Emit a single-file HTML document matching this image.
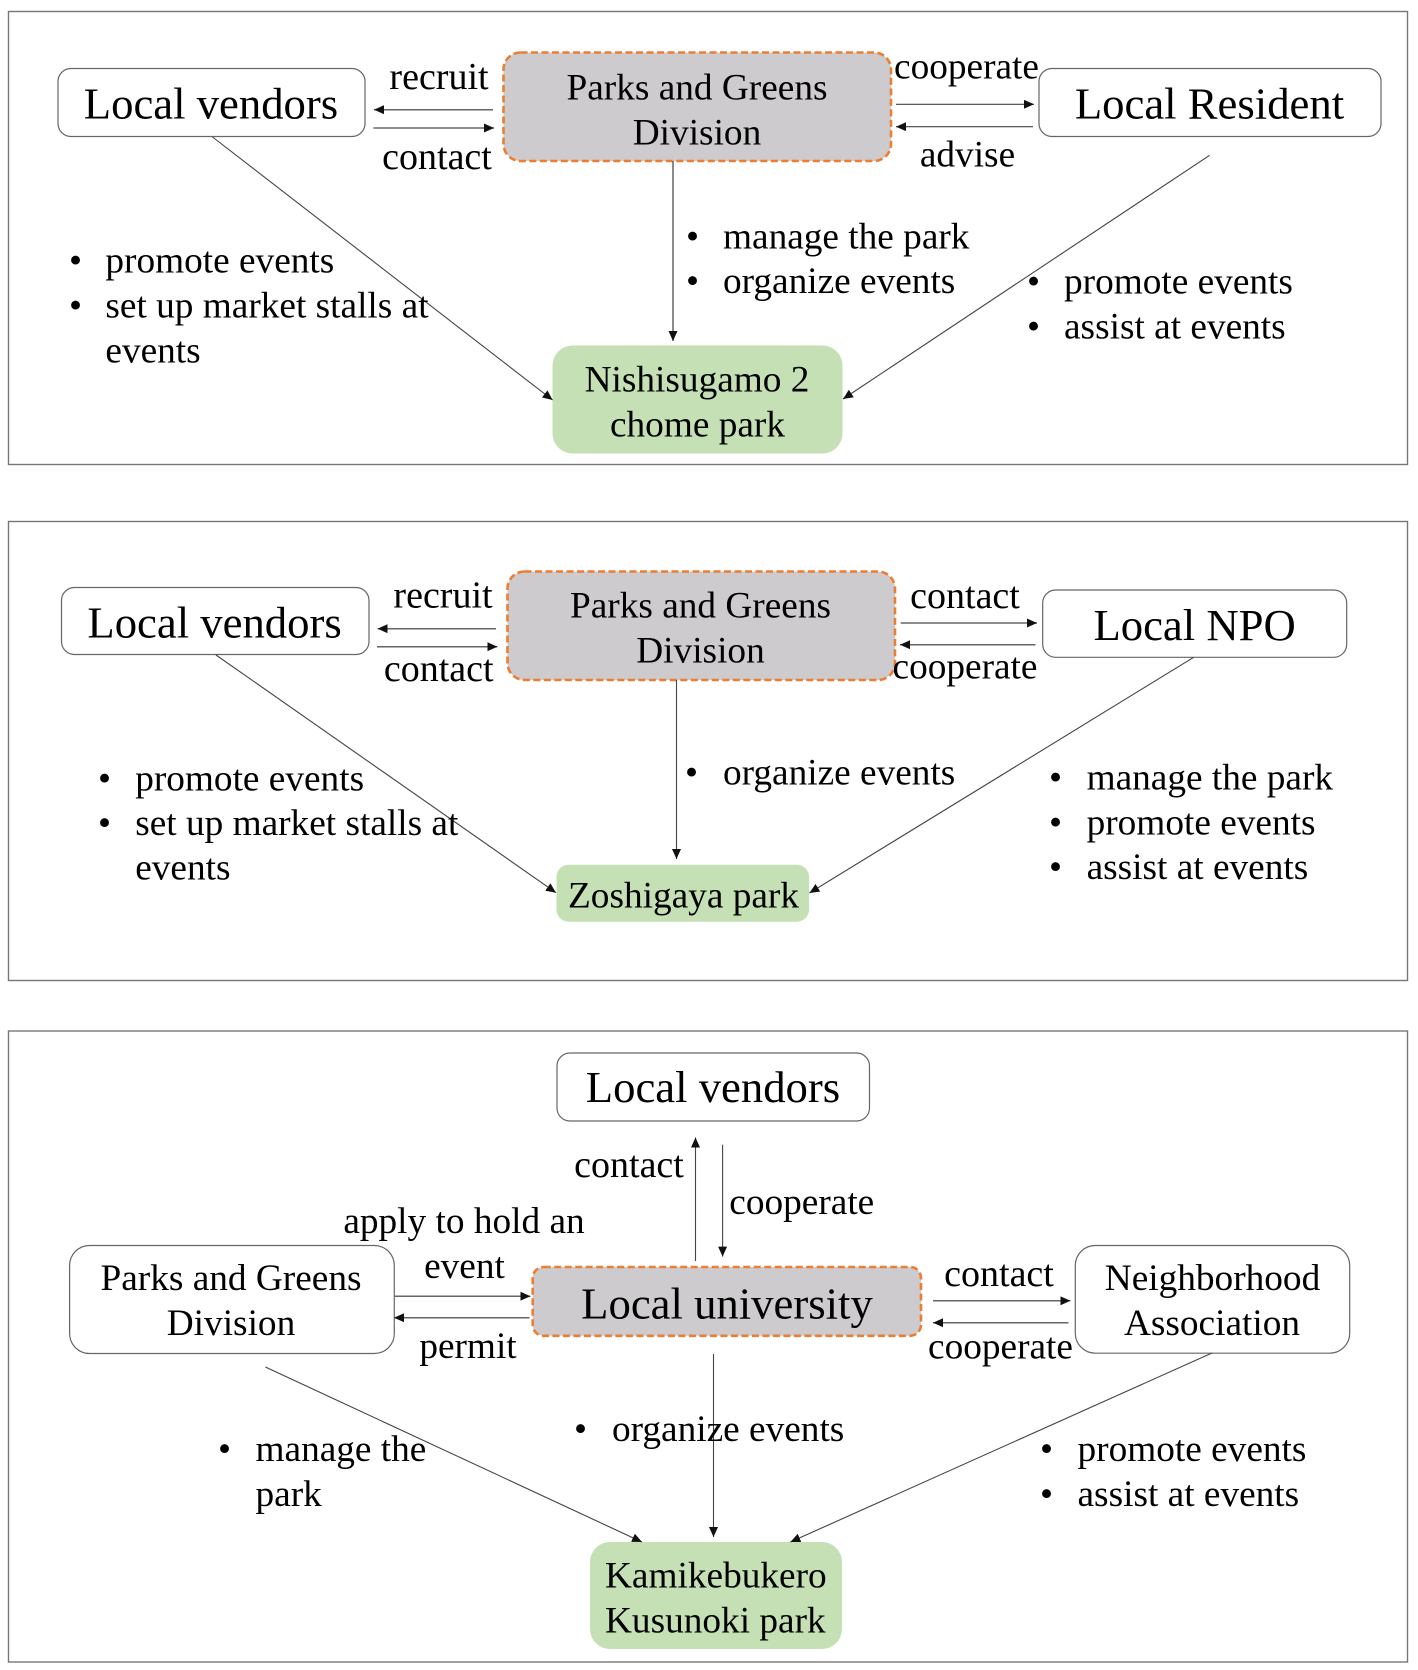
<!DOCTYPE html>
<html lang="en">
<head>
<meta charset="utf-8">
<title>Park management diagrams</title>
<style>
html,body{margin:0;padding:0;background:#fff;width:1418px;height:1670px;overflow:hidden}
svg{display:block}
text{font-family:"Liberation Serif",serif;font-size:37.3px;fill:#000;transform:translateY(1px)}
.big{font-size:44.7px;transform:translateY(.5px)}
.l{font-size:38px}
.m{text-anchor:middle}
.frame{fill:#fff;stroke:#777;stroke-width:1.4}
.box{fill:#fff;stroke:#666;stroke-width:1.2}
.grey{fill:#cdcbcd;stroke:#ed7d31;stroke-width:2.6;stroke-dasharray:7 3.5}
.green{fill:#c5e0b4}
.a{stroke:#444;stroke-width:1.1;fill:none;marker-end:url(#h)}
.b{stroke:#666;stroke-width:1.5}
</style>
</head>
<body>
<svg xmlns="http://www.w3.org/2000/svg" width="1418" height="1670" viewBox="0 0 1418 1670">
<defs>
<marker id="h" markerUnits="userSpaceOnUse" markerWidth="10" markerHeight="9" refX="10" refY="4.5" orient="auto">
<path d="M0 0L10 4.5L0 9Z" fill="#111"/>
</marker>
</defs>

<!-- Panel 1 -->
<rect class="frame" x="8.5" y="11.5" width="1399" height="453"/>
<rect class="box" x="58" y="68.5" width="307" height="68" rx="13"/>
<rect class="grey" x="503.5" y="52.5" width="387.5" height="108.5" rx="17"/>
<rect class="box" x="1039" y="68.5" width="342" height="68" rx="13"/>
<rect class="green" x="552.5" y="345.5" width="290" height="108" rx="20"/>
<line class="a b" x1="493" y1="109.7" x2="374" y2="109.7"/>
<line class="a b" x1="373.5" y1="128" x2="494" y2="128"/>
<line class="a" x1="896" y1="104.3" x2="1034" y2="104.3"/>
<line class="a" x1="1033" y1="126.7" x2="896" y2="126.7"/>
<line class="a b" x1="673" y1="161" x2="673" y2="341"/>
<line class="a" x1="212.5" y1="137" x2="552.6" y2="400"/>
<line class="a" x1="1209.6" y1="155.3" x2="843" y2="399"/>
<text class="big m" x="211" y="118">Local vendors</text>
<text class="l m" x="439" y="88">recruit</text>
<text class="l m" x="437" y="168">contact</text>
<text class="m" x="697" y="98.3">Parks and Greens</text>
<text class="m" x="697" y="143.3">Division</text>
<text class="m" x="966.5" y="77.3">cooperate</text>
<text class="m" x="967.5" y="165.7">advise</text>
<text class="big m" x="1209.5" y="118">Local Resident</text>
<text class="m" x="697" y="390.7">Nishisugamo 2</text>
<text class="m" x="697.5" y="435.3">chome park</text>
<text x="69" y="271.7">•</text><text x="105.4" y="271.7">promote events</text>
<text x="69" y="316.7">•</text><text x="105.4" y="316.7">set up market stalls at</text>
<text x="105.4" y="361.7">events</text>
<text x="686" y="247.3">•</text><text x="723" y="247.3">manage the park</text>
<text x="686" y="292">•</text><text x="723" y="292">organize events</text>
<text x="1027" y="292.3">•</text><text x="1064" y="292.3">promote events</text>
<text x="1027" y="337.3">•</text><text x="1064" y="337.3">assist at events</text>

<!-- Panel 2 -->
<rect class="frame" x="8.5" y="521.5" width="1399" height="459"/>
<rect class="box" x="61.5" y="587.5" width="307.5" height="67" rx="13"/>
<rect class="grey" x="507.5" y="571.5" width="387.5" height="108.5" rx="17"/>
<rect class="box" x="1042.7" y="590" width="304" height="67.3" rx="13"/>
<rect class="green" x="556.5" y="864.7" width="252.5" height="57" rx="12"/>
<line class="a b" x1="496" y1="628.7" x2="377.6" y2="628.7"/>
<line class="a b" x1="377" y1="646.7" x2="497.4" y2="646.7"/>
<line class="a b" x1="900.7" y1="623" x2="1037" y2="623"/>
<line class="a b" x1="1035.5" y1="644.7" x2="900" y2="644.7"/>
<line class="a" x1="676.5" y1="680" x2="676.5" y2="859"/>
<line class="a" x1="216" y1="655" x2="556" y2="892.7"/>
<line class="a" x1="1193.7" y1="657.3" x2="809.4" y2="893"/>
<text class="big m" x="214.6" y="637">Local vendors</text>
<text class="l m" x="443" y="606.7">recruit</text>
<text class="l m" x="438.7" y="680">contact</text>
<text class="m" x="700.5" y="616.7">Parks and Greens</text>
<text class="m" x="700.5" y="661.7">Division</text>
<text class="l m" x="965" y="607">contact</text>
<text class="m" x="965" y="677.7">cooperate</text>
<text class="big m" x="1194.6" y="639.3">Local NPO</text>
<text class="m" x="683.5" y="906.7">Zoshigaya park</text>
<text x="98" y="789.3">•</text><text x="135.2" y="789.3">promote events</text>
<text x="98" y="834">•</text><text x="135.2" y="834">set up market stalls at</text>
<text x="135.2" y="878.7">events</text>
<text x="685" y="783.3">•</text><text x="723" y="783.3">organize events</text>
<text x="1049" y="788.3">•</text><text x="1086.6" y="788.3">manage the park</text>
<text x="1049" y="833.3">•</text><text x="1086.6" y="833.3">promote events</text>
<text x="1049" y="878">•</text><text x="1086.6" y="878">assist at events</text>

<!-- Panel 3 -->
<rect class="frame" x="8.5" y="1031" width="1399" height="631"/>
<rect class="box" x="557" y="1053" width="312.5" height="68" rx="13"/>
<rect class="box" x="69.6" y="1245.5" width="324.7" height="108" rx="20"/>
<rect class="grey" x="532.7" y="1267" width="388.3" height="68.8" rx="11"/>
<rect class="box" x="1075.3" y="1245.5" width="274.4" height="107.7" rx="20"/>
<rect class="green" x="590" y="1542" width="252" height="107" rx="20"/>
<line class="a" x1="695.5" y1="1261" x2="695.5" y2="1137.5"/>
<line class="a" x1="722.6" y1="1144.7" x2="722.6" y2="1256.6"/>
<line class="a b" x1="394" y1="1296.2" x2="530.4" y2="1296.2"/>
<line class="a b" x1="529.5" y1="1317.7" x2="394" y2="1317.7"/>
<line class="a b" x1="933" y1="1300.8" x2="1070.4" y2="1300.8"/>
<line class="a b" x1="1068.5" y1="1322.7" x2="933" y2="1322.7"/>
<line class="a" x1="713.5" y1="1354" x2="713.5" y2="1537"/>
<line class="a" x1="265.4" y1="1367" x2="642" y2="1542"/>
<line class="a" x1="1212" y1="1353" x2="790.4" y2="1542"/>
<text class="big m" x="713" y="1101.7">Local vendors</text>
<text class="l m" x="629" y="1175.8">contact</text>
<text x="729.3" y="1212.9">cooperate</text>
<text class="m" x="464" y="1231.8">apply to hold an</text>
<text class="m" x="464.5" y="1277">event</text>
<text class="m" x="468" y="1357">permit</text>
<text class="m" x="231" y="1289">Parks and Greens</text>
<text class="m" x="231" y="1334">Division</text>
<text class="big m" x="727" y="1318">Local university</text>
<text class="l m" x="999" y="1285">contact</text>
<text class="m" x="1000.5" y="1357.6">cooperate</text>
<text class="m" x="1212.5" y="1289">Neighborhood</text>
<text class="m" x="1212" y="1334">Association</text>
<text x="605" y="1586.6">Kamikebukero</text>
<text x="605" y="1631.6">Kusunoki park</text>
<text x="574" y="1440">•</text><text x="612" y="1440">organize events</text>
<text x="218" y="1460">•</text><text x="255.5" y="1460">manage the</text>
<text x="255.5" y="1505">park</text>
<text x="1040" y="1460">•</text><text x="1077.5" y="1460">promote events</text>
<text x="1040" y="1505">•</text><text x="1077.5" y="1505">assist at events</text>
</svg>
</body>
</html>
